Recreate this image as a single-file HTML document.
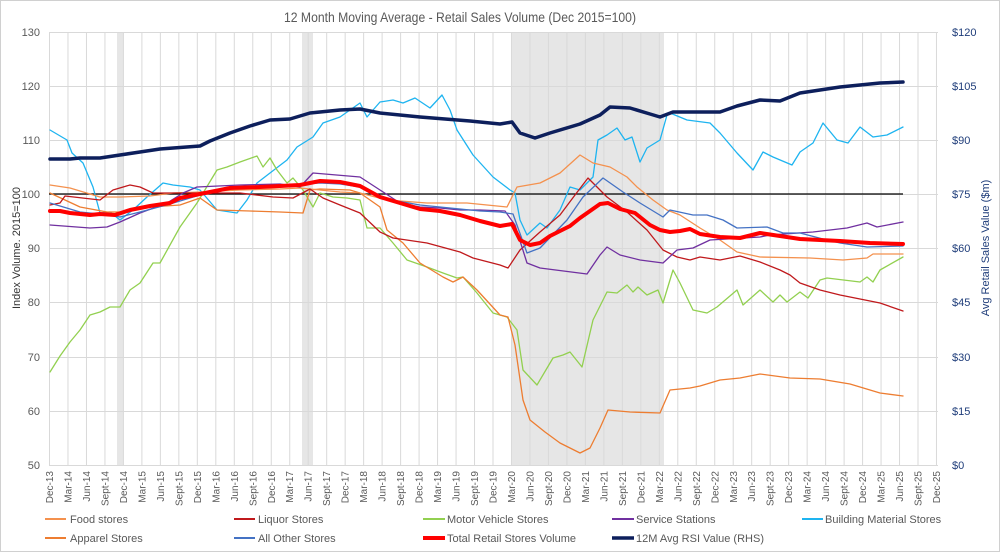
<!DOCTYPE html>
<html><head><meta charset="utf-8"><style>
html,body{margin:0;padding:0;background:#fff}
svg{display:block;font-family:"Liberation Sans",sans-serif}
</style></head><body>
<svg width="1000" height="552" viewBox="0 0 1000 552" xmlns="http://www.w3.org/2000/svg">
<defs>
<pattern id="vg" x="49" y="0" width="18.479" height="552" patternUnits="userSpaceOnUse">
<line x1="0.5" y1="0" x2="0.5" y2="552" stroke="#d9d9d9" stroke-width="1"/>
</pattern>
</defs>
<rect x="0.5" y="0.5" width="999" height="551" fill="#fff" stroke="#d0d0d0"/>
<text x="460" y="22" font-size="14" fill="#595959" text-anchor="middle" textLength="352" lengthAdjust="spacingAndGlyphs">12 Month Moving Average - Retail Sales Volume (Dec 2015=100)</text>
<rect x="117" y="32" width="6" height="433" fill="#e6e6e6"/>
<rect x="302" y="32" width="11" height="433" fill="#e6e6e6"/>
<rect x="512" y="32" width="152" height="433" fill="#e6e6e6"/>
<rect x="49" y="32" width="889" height="433" fill="url(#vg)"/>
<g stroke="#d9d9d9" stroke-width="1">
<line x1="49" y1="32.5" x2="938" y2="32.5"/>
<line x1="49" y1="86.5" x2="938" y2="86.5"/>
<line x1="49" y1="140.5" x2="938" y2="140.5"/>
<line x1="49" y1="194.5" x2="938" y2="194.5"/>
<line x1="49" y1="248.5" x2="938" y2="248.5"/>
<line x1="49" y1="302.5" x2="938" y2="302.5"/>
<line x1="49" y1="357.5" x2="938" y2="357.5"/>
<line x1="49" y1="411.5" x2="938" y2="411.5"/>
<line x1="49" y1="465.5" x2="938" y2="465.5"/>
</g>
<g font-size="11" fill="#595959" text-anchor="end">
<text x="40" y="36">130</text><text x="40" y="90">120</text><text x="40" y="144">110</text><text x="40" y="198">100</text><text x="40" y="252">90</text><text x="40" y="306">80</text><text x="40" y="361">70</text><text x="40" y="415">60</text><text x="40" y="469">50</text>
</g>
<text transform="translate(20,248) rotate(-90)" font-size="11" fill="#333" text-anchor="middle">Index Volume. 2015=100</text>
<g font-size="11" fill="#1f3d7a">
<text x="952" y="36">$120</text><text x="952" y="90">$105</text><text x="952" y="144">$90</text><text x="952" y="198">$75</text><text x="952" y="252">$60</text><text x="952" y="306">$45</text><text x="952" y="361">$30</text><text x="952" y="415">$15</text><text x="952" y="469">$0</text>
</g>
<text transform="translate(989,248) rotate(-90)" font-size="11" fill="#1f3d7a" text-anchor="middle">Avg Retail Sales Value ($m)</text>
<g font-size="10" fill="#595959" text-anchor="end">
<text transform="translate(53,471) rotate(-90)">Dec-13</text>
<text transform="translate(71.5,471) rotate(-90)">Mar-14</text>
<text transform="translate(90,471) rotate(-90)">Jun-14</text>
<text transform="translate(108.4,471) rotate(-90)">Sept-14</text>
<text transform="translate(126.9,471) rotate(-90)">Dec-14</text>
<text transform="translate(145.4,471) rotate(-90)">Mar-15</text>
<text transform="translate(163.9,471) rotate(-90)">Jun-15</text>
<text transform="translate(182.4,471) rotate(-90)">Sept-15</text>
<text transform="translate(200.8,471) rotate(-90)">Dec-15</text>
<text transform="translate(219.3,471) rotate(-90)">Mar-16</text>
<text transform="translate(237.8,471) rotate(-90)">Jun-16</text>
<text transform="translate(256.3,471) rotate(-90)">Sept-16</text>
<text transform="translate(274.8,471) rotate(-90)">Dec-16</text>
<text transform="translate(293.2,471) rotate(-90)">Mar-17</text>
<text transform="translate(311.7,471) rotate(-90)">Jun-17</text>
<text transform="translate(330.2,471) rotate(-90)">Sept-17</text>
<text transform="translate(348.7,471) rotate(-90)">Dec-17</text>
<text transform="translate(367.2,471) rotate(-90)">Mar-18</text>
<text transform="translate(385.6,471) rotate(-90)">Jun-18</text>
<text transform="translate(404.1,471) rotate(-90)">Sept-18</text>
<text transform="translate(422.6,471) rotate(-90)">Dec-18</text>
<text transform="translate(441.1,471) rotate(-90)">Mar-19</text>
<text transform="translate(459.6,471) rotate(-90)">Jun-19</text>
<text transform="translate(478,471) rotate(-90)">Sept-19</text>
<text transform="translate(496.5,471) rotate(-90)">Dec-19</text>
<text transform="translate(515,471) rotate(-90)">Mar-20</text>
<text transform="translate(533.5,471) rotate(-90)">Jun-20</text>
<text transform="translate(552,471) rotate(-90)">Sept-20</text>
<text transform="translate(570.4,471) rotate(-90)">Dec-20</text>
<text transform="translate(588.9,471) rotate(-90)">Mar-21</text>
<text transform="translate(607.4,471) rotate(-90)">Jun-21</text>
<text transform="translate(625.9,471) rotate(-90)">Sept-21</text>
<text transform="translate(644.4,471) rotate(-90)">Dec-21</text>
<text transform="translate(662.8,471) rotate(-90)">Mar-22</text>
<text transform="translate(681.3,471) rotate(-90)">Jun-22</text>
<text transform="translate(699.8,471) rotate(-90)">Sept-22</text>
<text transform="translate(718.3,471) rotate(-90)">Dec-22</text>
<text transform="translate(736.8,471) rotate(-90)">Mar-23</text>
<text transform="translate(755.2,471) rotate(-90)">Jun-23</text>
<text transform="translate(773.7,471) rotate(-90)">Sept-23</text>
<text transform="translate(792.2,471) rotate(-90)">Dec-23</text>
<text transform="translate(810.7,471) rotate(-90)">Mar-24</text>
<text transform="translate(829.2,471) rotate(-90)">Jun-24</text>
<text transform="translate(847.6,471) rotate(-90)">Sept-24</text>
<text transform="translate(866.1,471) rotate(-90)">Dec-24</text>
<text transform="translate(884.6,471) rotate(-90)">Mar-25</text>
<text transform="translate(903.1,471) rotate(-90)">Jun-25</text>
<text transform="translate(921.6,471) rotate(-90)">Sept-25</text>
<text transform="translate(940,471) rotate(-90)">Dec-25</text>
</g>
<line x1="49" y1="194" x2="903" y2="194" stroke="#000" stroke-width="1.3"/>
<g fill="none" stroke-linejoin="round" stroke-linecap="round">
<polyline stroke="#1eb4f0" stroke-width="1.3" points="50,130 67,140 72,153 83,163 93,187 100,213 110,212 120,220 133,210 147,197 163,183 173,185 190,187 200,190 217,210 237,213 247,200 257,183 270,173 287,160 297,147 313,137 323,123 340,117 360,103 367,117 380,102 393,100 403,103 415,98 430,108 442,95 450,110 457,130 473,155 493,177 510,190 515,193 520,220 527,235 540,223 547,228 560,210 570,187 580,190 593,177 598,140 607,135 617,128 625,140 632,137 640,162 647,148 660,140 667,115 670,113 687,120 710,123 720,133 737,153 753,170 763,152 773,157 792,165 800,152 813,143 823,123 837,140 848,143 860,127 873,137 887,135 903,127"/>
<polyline stroke="#92d050" stroke-width="1.3" points="50,372 60,356 70,342 80,330 90,315 100,312 110,307 120,307 130,290 140,283 153,263 160,263 180,227 197,203 217,170 227,167 240,162 257,156 263,167 270,158 277,170 287,183 293,178 303,190 313,207 320,193 333,197 347,198 360,200 367,228 380,228 393,243 407,260 427,267 443,273 457,278 463,277 477,293 493,313 507,317 517,330 523,370 537,385 553,358 563,355 570,352 582,367 593,320 607,292 617,293 627,285 633,292 638,287 647,295 658,290 663,303 673,270 680,283 693,310 707,313 717,307 737,290 743,305 760,290 773,302 780,295 787,302 800,292 808,298 820,280 827,278 860,282 867,277 873,282 880,270 903,257"/>
<polyline stroke="#ed7d31" stroke-width="1.3" points="50,193 80,207 107,212 123,212 150,207 180,205 200,198 217,210 250,211 280,212 303,213 310,190 320,189 350,190 360,193 380,207 387,230 403,243 420,263 443,277 453,282 463,277 477,290 500,315 508,317 515,345 523,400 530,420 545,432 560,443 580,453 590,448 600,428 608,410 630,412 660,413 670,390 690,388 700,386 720,380 740,378 760,374 790,378 820,379 850,384 880,393 903,396"/>
<polyline stroke="#f4914e" stroke-width="1.3" points="50,185 70,188 100,197 120,197 150,196 173,193 200,192 240,190 280,189 300,188 320,190 340,192 360,193 387,200 427,203 467,203 507,207 517,187 540,183 560,173 580,155 593,163 610,167 627,177 637,187 653,200 667,210 680,215 700,228 720,240 737,252 760,257 810,258 843,260 867,258 873,254 903,254"/>
<polyline stroke="#c0191c" stroke-width="1.3" points="50,205 60,203 65,196 100,200 113,190 130,185 140,187 153,193 173,193 240,193 273,197 293,198 310,189 323,198 340,205 360,213 380,232 393,238 427,243 460,252 473,258 500,265 508,268 520,250 540,232 560,215 575,195 588,178 607,197 627,212 647,230 663,250 677,257 690,260 700,257 720,260 740,256 760,262 780,270 790,275 800,283 820,290 840,295 860,299 880,303 903,311"/>
<polyline stroke="#7030a0" stroke-width="1.3" points="50,225 90,228 107,227 120,222 140,213 167,203 183,193 197,187 240,185 280,184 300,187 313,173 360,177 380,190 400,203 420,207 440,208 460,210 480,210 505,211 515,225 527,263 540,268 587,274 600,255 607,247 620,255 640,260 663,263 677,250 693,248 710,240 760,237 770,235 813,232 847,228 867,223 877,227 903,222"/>
<polyline stroke="#4472c4" stroke-width="1.3" points="50,203 80,212 110,215 120,217 140,212 170,204 200,195 230,188 260,186 290,185 320,183 340,184 360,187 380,198 420,205 450,208 480,211 500,212 513,214 527,253 540,248 567,220 583,197 603,178 623,192 640,203 663,217 670,210 693,215 707,215 723,220 737,228 767,227 783,233 800,233 823,239 840,243 867,247 903,246"/>
<polyline stroke="#ff0000" stroke-width="4" points="50,211 60,211 70,213 80,214 90,215 100,214 115,215 130,210 150,206 170,203 180,198 200,194 230,188 260,187 280,186 300,185 320,181 340,182 360,186 380,197 400,203 420,209 440,211 460,215 480,221 500,226 512,224 520,240 530,245 540,243 550,236 570,226 580,218 590,211 600,204 608,203 620,209 635,213 650,225 660,230 670,232 680,231 690,229 700,234 720,237 740,238 760,233 780,236 800,239 820,240 840,241 870,243 903,244"/>
<polyline stroke="#0d1f5c" stroke-width="3.5" points="50,159 70,159 80,158 100,158 120,155 140,152 160,149 200,146 210,141 230,133 250,126 270,120 290,119 310,113 340,110 360,109 380,113 420,117 470,121 500,124 512,122 520,133 535,138 550,133 580,124 600,115 610,107 630,108 650,114 660,117 673,112 690,112 720,112 737,106 760,100 780,101 800,93 840,87 880,83 903,82"/>
</g>
<g font-size="11" fill="#595959">
<line x1="45" y1="519" x2="66" y2="519" stroke="#f4914e" stroke-width="2"/><text x="70" y="523">Food stores</text>
<line x1="234" y1="519" x2="255" y2="519" stroke="#c0191c" stroke-width="2"/><text x="258" y="523">Liquor Stores</text>
<line x1="423" y1="519" x2="445" y2="519" stroke="#92d050" stroke-width="2"/><text x="447" y="523">Motor Vehicle Stores</text>
<line x1="612" y1="519" x2="634" y2="519" stroke="#7030a0" stroke-width="2"/><text x="636" y="523">Service Stations</text>
<line x1="802" y1="519" x2="823" y2="519" stroke="#1eb4f0" stroke-width="2"/><text x="825" y="523">Building Material Stores</text>
<line x1="45" y1="538" x2="66" y2="538" stroke="#ed7d31" stroke-width="2"/><text x="70" y="542">Apparel Stores</text>
<line x1="234" y1="538" x2="255" y2="538" stroke="#4472c4" stroke-width="2"/><text x="258" y="542">All Other Stores</text>
<line x1="423" y1="538" x2="445" y2="538" stroke="#ff0000" stroke-width="4"/><text x="447" y="542">Total Retail Stores Volume</text>
<line x1="612" y1="538" x2="634" y2="538" stroke="#0d1f5c" stroke-width="3.5"/><text x="636" y="542">12M Avg RSI Value (RHS)</text>
</g>
</svg>
</body></html>
